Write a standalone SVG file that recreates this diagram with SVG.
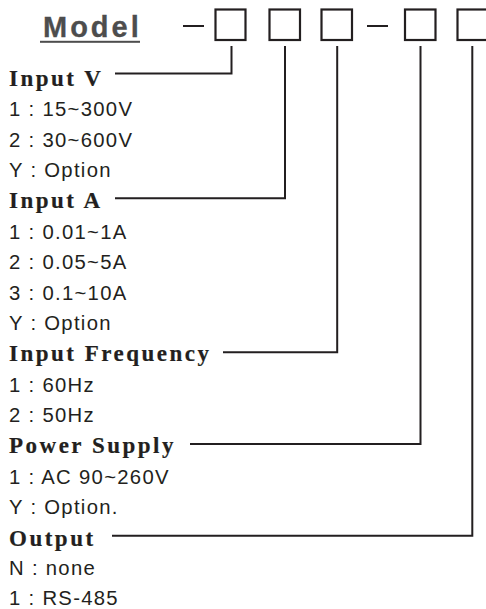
<svg xmlns="http://www.w3.org/2000/svg" width="486" height="609" viewBox="0 0 486 609">
<style>
.lbl{font-family:"Liberation Serif","Times New Roman",serif;font-weight:bold;font-size:23px;letter-spacing:2.5px;fill:#231f20;stroke:#231f20;stroke-width:0.2px}
.opt{font-family:"Liberation Sans",Arial,sans-serif;font-size:20.3px;letter-spacing:1.3px;fill:#231f20}
.box{fill:none;stroke:#231f20;stroke-width:2.2}
.ln{fill:none;stroke:#231f20;stroke-width:2}
</style>
<rect width="486" height="609" fill="#fff"/>
<g id="title">
<text x="43" y="37" style="font-family:'Liberation Sans',Arial,sans-serif;font-weight:bold;font-size:29px;letter-spacing:3px;fill:#4d4d4d;stroke:#4d4d4d;stroke-width:0.3px">Model</text>
<rect x="40" y="40.8" width="100" height="2" fill="#4d4d4d"/>
</g>
<g id="code">
<line class="ln" x1="183" y1="26" x2="204" y2="26"/>
<rect class="box" x="215.5" y="9.5" width="30" height="30.5"/>
<rect class="box" x="269.5" y="9.5" width="30.5" height="30.5"/>
<rect class="box" x="321.5" y="9.5" width="30.5" height="30.5"/>
<line class="ln" x1="367" y1="26" x2="388" y2="26"/>
<rect class="box" x="405" y="9.5" width="30.5" height="30.5"/>
<rect class="box" x="457.5" y="9.5" width="30.5" height="30.5"/>
</g>
<g id="connectors">
<polyline class="ln" points="115,73.5 231.5,73.5 231.5,46"/>
<polyline class="ln" points="115,198.3 285,198.3 285,46"/>
<polyline class="ln" points="223,352.3 337.2,352.3 337.2,46"/>
<polyline class="ln" points="190,444 420.5,444 420.5,46"/>
<polyline class="ln" points="112,535.8 472.3,535.8 472.3,46"/>
</g>
<g id="input-v">
<text class="lbl" x="9" y="85.7">Input V</text>
<text class="opt" x="9" y="116">1 : 15~300V</text>
<text class="opt" x="9" y="146.6">2 : 30~600V</text>
<text class="opt" x="9" y="177.2">Y : Option</text>
</g>
<g id="input-a">
<text class="lbl" x="9" y="208">Input A</text>
<text class="opt" x="9" y="238.6">1 : 0.01~1A</text>
<text class="opt" x="9" y="269.2">2 : 0.05~5A</text>
<text class="opt" x="9" y="299.8">3 : 0.1~10A</text>
<text class="opt" x="9" y="330.4">Y : Option</text>
</g>
<g id="input-frequency">
<text class="lbl" x="9" y="361.2">Input Frequency</text>
<text class="opt" x="9" y="391.7">1 : 60Hz</text>
<text class="opt" x="9" y="422.3">2 : 50Hz</text>
</g>
<g id="power-supply">
<text class="lbl" x="9" y="453">Power Supply</text>
<text class="opt" x="9" y="483.5">1 : AC 90~260V</text>
<text class="opt" x="9" y="514.1">Y : Option.</text>
</g>
<g id="output">
<text class="lbl" x="9" y="545.5">Output</text>
<text class="opt" x="9" y="575.4">N : none</text>
<text class="opt" x="9" y="605.3">1 : RS-485</text>
</g>
</svg>
